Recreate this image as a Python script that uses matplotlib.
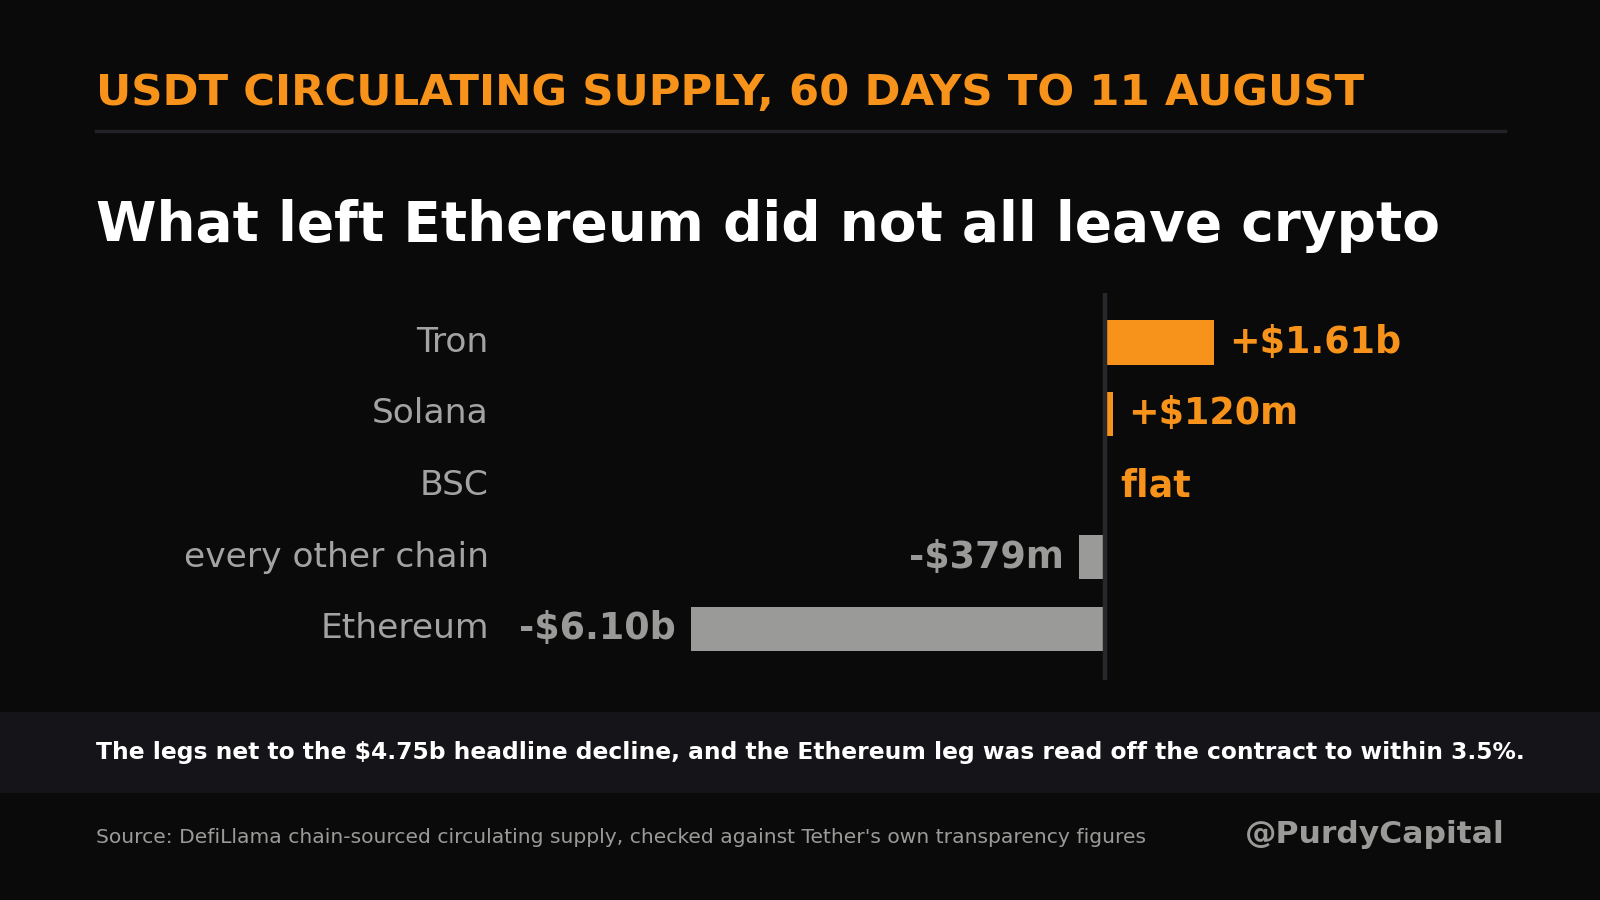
import matplotlib
matplotlib.use("Agg")
import matplotlib.pyplot as plt
from matplotlib.transforms import blended_transform_factory

# ---- data ----
categories = ["Tron", "Solana", "BSC", "every other chain", "Ethereum"]
values_b = [1.61, 0.12, 0.0, -0.379, -6.10]
value_labels = ["+$1.61b", "+$120m", "flat", "-$379m", "-$6.10b"]

title = "USDT CIRCULATING SUPPLY, 60 DAYS TO 11 AUGUST"
subtitle = "What left Ethereum did not all leave crypto"
note = "The legs net to the $4.75b headline decline, and the Ethereum leg was read off the contract to within 3.5%."
source = "Source: DefiLlama chain-sourced circulating supply, checked against Tether's own transparency figures"
handle = "@PurdyCapital"

# ---- style ----
BG = "#0a0a0a"
ORANGE = "#f7931a"
GREY = "#9a9a98"
LABEL_GREY = "#a3a3a3"
RULE = "#222226"
BAND = "#141419"
AXLINE = "#27272c"

RW, RH = 1568.0, 882.0  # reference layout grid
def fx(px): return px / RW
def fy(py): return 1 - py / RH

plt.rcParams["font.family"] = ["DejaVu Sans"]
fig = plt.figure(figsize=(16, 9), dpi=100, facecolor=BG)

# header
fig.text(fx(94), fy(103), title, color=ORANGE, fontsize=31.25, fontweight="bold",
         ha="left", va="baseline")
fig.add_artist(plt.Line2D([fx(94), fx(1475)], [fy(128), fy(128)], color=RULE, lw=2.5,
                          transform=fig.transFigure))
fig.text(fx(94), fy(236), subtitle, color="white", fontsize=39.5, fontweight="bold",
         ha="left", va="baseline")

# footer band
fig.add_artist(plt.Rectangle((0, fy(776)), 1, fy(698) - fy(776), color=BAND,
                             transform=fig.transFigure, zorder=0))
fig.text(fx(94), fy(737), note, color="white", fontsize=16.85, fontweight="bold",
         ha="left", va="center")
fig.text(fx(94), fy(821), source, color=GREY, fontsize=14.6, ha="left", va="center")
fig.text(fx(1475), fy(818), handle, color=GREY, fontsize=22.6, fontweight="bold",
         ha="right", va="center")

# chart axes
zero_px, px_per_b = 1083.0, 66.45
ax_l, ax_r = 500.0, 1475.0
ax_t, ax_b = 287.0, 666.0
row0, row_step = 335.5, 70.2
ax = fig.add_axes([fx(ax_l), fy(ax_b), fx(ax_r) - fx(ax_l), fy(ax_t) - fy(ax_b)])
ax.set_facecolor(BG)
ax.set_xlim((ax_l - zero_px) / px_per_b, (ax_r - zero_px) / px_per_b)
ax.set_ylim((ax_b - row0) / row_step, (ax_t - row0) / row_step)
for s in ax.spines.values():
    s.set_visible(False)
ax.set_xticks([])
ax.set_yticks([])

ypos = list(range(len(categories)))
colors = [ORANGE if v >= 0 else GREY for v in values_b]
ax.barh(ypos, values_b, height=0.62, color=colors, zorder=2)
ax.axvline(0, color=AXLINE, lw=3.2, zorder=3)

off = 15 / px_per_b
for y, v, lab, c in zip(ypos, values_b, value_labels, colors):
    if v >= 0:
        ax.text(v + off, y, lab, color=ORANGE, fontsize=26.3, fontweight="bold",
                ha="left", va="center")
    else:
        ax.text(v - off, y, lab, color=GREY, fontsize=26.3, fontweight="bold",
                ha="right", va="center")

tr = blended_transform_factory(fig.transFigure, ax.transData)
for y, cat in zip(ypos, categories):
    ax.text(fx(479), y, cat, color=LABEL_GREY, fontsize=24.8, ha="right", va="center",
            transform=tr)

fig.savefig("out.png", dpi=100, facecolor=BG)
